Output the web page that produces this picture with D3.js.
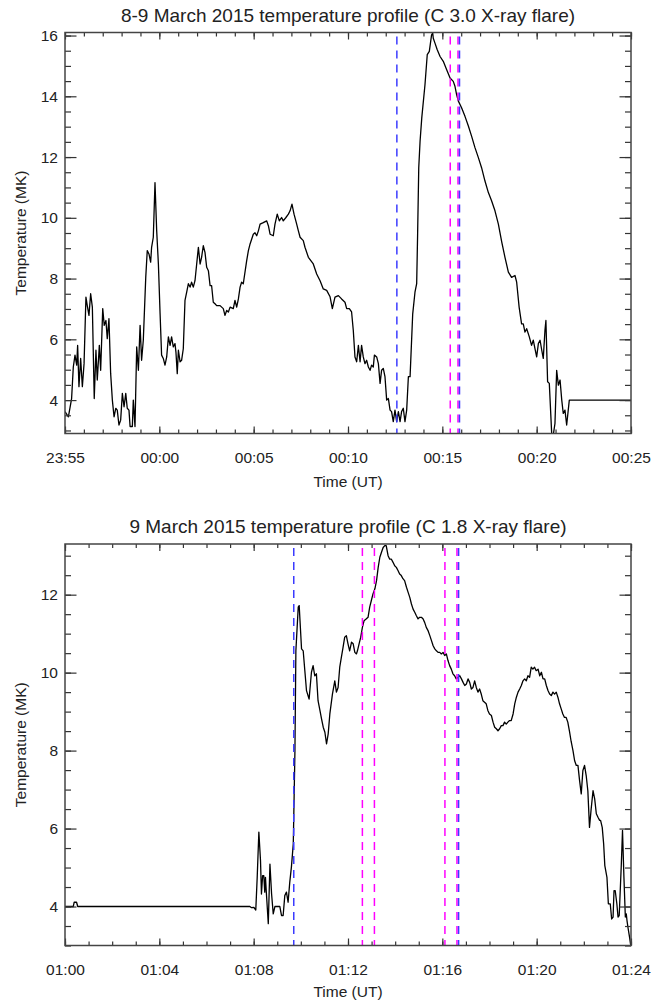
<!DOCTYPE html>
<html>
<head>
<meta charset="utf-8">
<script src="https://cdn.jsdelivr.net/npm/d3@7"></script>
<style>
  body { margin: 0; background: #fff; }
  text { font-family: 'Liberation Sans', Arial, Helvetica, sans-serif; fill: #222; }
</style>
</head>
<body>
<div id="chart"></div>
<script>
// ---- data: time in minutes after the first tick, temperature in MK ----
var topTitle = '8-9 March 2015 temperature profile (C 3.0 X-ray flare)'
var topTickLabels = ['23:55', '00:00', '00:05', '00:10', '00:15', '00:20', '00:25']
var topTickMinutes = [0, 5, 10, 15, 20, 25, 30]
var topYTicks = [4, 6, 8, 10, 12, 14, 16]
var topBlueLines = [17.59, 20.91]
var topMagentaLines = [20.42, 20.83]
var topSeries = [
  [0,3.62],[0.18,3.45],[0.35,4.05],[0.44,5.09],[0.53,5.48],[0.62,5.15],[0.67,5.8],[0.74,4.44],[0.83,5.37],[0.92,4.44],
  [1.01,5.2],[1.11,7.39],[1.18,7.11],[1.27,6.79],[1.36,7.5],[1.45,7.06],[1.55,4.05],[1.64,5.64],[1.71,4.66],[1.82,5.8],
  [1.89,4.98],[2.0,7.01],[2.08,6.46],[2.17,6.62],[2.24,6.02],[2.33,6.68],[2.42,4.87],[2.51,4.0],[2.6,3.45],[2.69,3.73],
  [2.77,3.67],[2.86,3.18],[2.95,3.34],[3.04,4.22],[3.13,3.78],[3.22,4.22],[3.3,3.73],[3.39,3.67],[3.45,3.13],[3.57,3.13],
  [3.62,4.0],[3.71,3.13],[3.8,5.75],[3.89,4.98],[3.98,6.46],[4.06,5.31],[4.15,5.97],[4.28,8.04],[4.36,8.92],[4.45,8.81],
  [4.54,8.54],[4.59,9.03],[4.68,9.36],[4.77,11.16],[4.86,9.57],[4.95,8.48],[5.04,6.84],[5.12,5.48],[5.21,5.37],[5.3,5.15],
  [5.39,5.42],[5.48,6.08],[5.57,5.8],[5.65,6.08],[5.74,5.75],[5.83,5.86],[5.88,5.58],[5.95,4.87],[6.01,5.64],[6.1,5.26],
  [6.18,5.31],[6.27,5.69],[6.36,7.28],[6.45,7.55],[6.54,7.83],[6.63,7.72],[6.71,7.88],[6.8,7.72],[6.89,7.93],[6.98,8.48],
  [7.07,9.03],[7.16,8.48],[7.24,8.7],[7.33,9.08],[7.42,8.86],[7.51,8.37],[7.6,8.26],[7.69,7.77],[7.77,7.77],[7.86,7.22],
  [7.95,7.17],[8.04,7.11],[8.22,7.11],[8.39,7.01],[8.48,6.79],[8.57,6.95],[8.66,6.9],[8.75,7.06],[8.92,7.01],[9.01,7.28],
  [9.1,7.06],[9.19,7.33],[9.28,7.72],[9.36,7.88],[9.45,7.83],[9.63,8.59],[9.72,8.92],[9.81,9.14],[9.98,9.46],[10.07,9.51],
  [10.16,9.41],[10.25,9.57],[10.34,9.79],[10.51,9.84],[10.69,9.9],[10.78,9.74],[10.87,9.46],[11.04,9.41],[11.13,9.79],[11.25,10.12],
  [11.36,9.9],[11.48,10.01],[11.57,9.9],[11.71,10.01],[11.84,10.12],[11.93,10.23],[12.03,10.45],[12.14,10.12],[12.28,9.79],[12.37,9.57],
  [12.46,9.36],[12.63,9.25],[12.72,9.03],[12.9,8.7],[13.16,8.48],[13.34,8.15],[13.52,7.93],[13.69,7.66],[13.87,7.61],[14.05,7.4],
  [14.17,7.01],[14.31,7.39],[14.49,7.44],[14.66,7.33],[14.84,7.22],[14.93,7.01],[15.07,7.01],[15.19,6.9],[15.28,6.3],[15.37,5.42],
  [15.46,5.26],[15.55,5.8],[15.64,5.26],[15.72,5.8],[15.81,5.42],[15.9,5.2],[15.99,5.31],[16.08,5.09],[16.17,4.98],[16.25,5.15],
  [16.34,5.09],[16.4,5.48],[16.52,5.42],[16.61,5.2],[16.7,4.55],[16.78,4.98],[16.87,5.04],[16.96,4.77],[17.05,4.0],[17.14,4.05],
  [17.23,3.67],[17.31,3.62],[17.4,3.29],[17.49,3.67],[17.58,3.29],[17.67,3.62],[17.76,3.29],[17.84,3.62],[17.93,3.73],[18.02,3.29],
  [18.11,3.67],[18.2,4.77],[18.29,4.77],[18.43,6.84],[18.55,7.55],[18.64,7.83],[18.69,9.46],[18.75,11.65],[18.82,12.52],[18.91,13.29],
  [19.08,14.38],[19.2,15.37],[19.31,15.48],[19.43,16.02],[19.49,16.08],[19.52,15.91],[19.61,15.75],[19.73,15.53],[19.88,15.31],[20.05,15.15],
  [20.23,14.87],[20.41,14.6],[20.58,14.49],[20.67,14.33],[20.76,14.05],[20.85,13.84],[21.02,13.62],[21.2,13.34],[21.38,13.02],[21.55,12.69],
  [21.73,12.31],[21.91,11.98],[22.08,11.65],[22.26,11.21],[22.44,10.83],[22.61,10.56],[22.79,10.23],[22.97,9.79],[23.15,9.2],[23.32,8.7],
  [23.5,8.21],[23.67,8.04],[23.85,8.1],[23.94,7.88],[24.07,7.06],[24.2,6.51],[24.29,6.51],[24.38,6.24],[24.47,6.35],[24.61,6.08],
  [24.73,5.8],[24.82,5.97],[24.91,5.69],[25.0,5.42],[25.09,5.86],[25.18,5.97],[25.27,5.64],[25.35,5.37],[25.44,6.3],[25.49,6.62],
  [25.58,4.6],[25.67,4.55],[25.8,2.85],[25.88,2.85],[25.97,3.23],[26.06,4.98],[26.15,4.49],[26.24,4.66],[26.33,4.0],[26.41,3.56],
  [26.5,3.67],[26.59,3.18],[26.73,4.0],[30,4.0]
]

var bottomTitle = '9 March 2015 temperature profile (C 1.8 X-ray flare)'
var bottomTickLabels = ['01:00', '01:04', '01:08', '01:12', '01:16', '01:20', '01:24']
var bottomTickMinutes = [0, 4, 8, 12, 16, 20, 24]
var bottomYTicks = [4, 6, 8, 10, 12]
var bottomBlueLines = [9.7, 16.69]
var bottomMagentaLines = [12.61, 13.12, 16.11, 16.62]
var bottomSeries = [
  [0,4.0],[0.35,4.0],[0.39,4.11],[0.49,4.11],[0.54,4.0],[7.84,4.0],[7.91,3.97],[8.01,3.98],[8.09,3.91],[8.15,4.75],
  [8.22,5.91],[8.29,5.18],[8.33,4.32],[8.38,4.79],[8.43,4.79],[8.47,4.37],[8.5,4.75],[8.55,4.24],[8.62,3.56],[8.69,5.09],
  [8.76,4.32],[8.83,3.81],[8.9,4.0],[9.11,4.0],[9.18,3.77],[9.25,3.77],[9.32,4.28],[9.39,4.37],[9.46,4.11],[9.53,4.62],
  [9.6,5.01],[9.68,5.61],[9.75,8.0],[9.79,10.56],[9.89,11.68],[9.93,11.72],[10.03,10.61],[10.1,10.56],[10.17,10.05],[10.24,9.54],
  [10.35,9.32],[10.45,10.01],[10.52,10.18],[10.59,9.92],[10.66,9.97],[10.73,9.28],[10.81,9.03],[10.88,8.81],[10.95,8.6],[11.02,8.47],
  [11.09,8.17],[11.16,8.43],[11.23,8.94],[11.34,9.45],[11.44,9.79],[11.51,9.5],[11.58,9.62],[11.65,10.14],[11.72,10.4],[11.79,10.65],
  [11.86,10.91],[11.93,10.95],[12.0,10.74],[12.07,10.56],[12.15,10.78],[12.22,10.74],[12.29,10.52],[12.36,10.48],[12.4,10.56],[12.47,10.74],
  [12.54,10.91],[12.61,11.16],[12.68,11.33],[12.78,11.38],[12.85,11.42],[12.92,11.68],[12.99,11.85],[13.06,12.02],[13.14,12.15],[13.21,12.36],
  [13.28,12.7],[13.35,12.96],[13.42,13.09],[13.49,13.21],[13.56,13.26],[13.62,13.26],[13.7,13.0],[13.77,12.91],[13.84,12.91],[13.91,12.83],
  [13.98,12.74],[14.05,12.7],[14.12,12.62],[14.19,12.53],[14.26,12.49],[14.33,12.41],[14.4,12.36],[14.48,12.19],[14.55,12.06],[14.62,11.93],
  [14.69,11.76],[14.76,11.63],[14.83,11.55],[14.9,11.46],[14.97,11.38],[15.04,11.42],[15.11,11.42],[15.18,11.38],[15.25,11.29],[15.32,11.16],
  [15.4,11.07],[15.47,10.95],[15.54,10.82],[15.61,10.69],[15.68,10.61],[15.75,10.56],[15.82,10.52],[15.89,10.52],[15.96,10.48],[16.03,10.52],
  [16.1,10.44],[16.17,10.48],[16.24,10.31],[16.31,10.18],[16.38,10.09],[16.45,9.97],[16.52,9.92],[16.59,9.84],[16.67,9.88],[16.74,9.92],
  [16.81,9.84],[16.88,9.75],[16.95,9.67],[17.02,9.71],[17.09,9.84],[17.16,9.75],[17.23,9.58],[17.3,9.62],[17.37,9.79],[17.44,9.62],
  [17.51,9.5],[17.58,9.58],[17.65,9.45],[17.72,9.28],[17.79,9.24],[17.86,9.2],[17.93,9.03],[18.0,8.94],[18.08,8.9],[18.15,8.73],
  [18.22,8.6],[18.29,8.56],[18.36,8.51],[18.43,8.56],[18.5,8.64],[18.57,8.64],[18.64,8.73],[18.71,8.68],[18.78,8.73],[18.85,8.77],
  [18.92,8.77],[19.0,8.94],[19.07,9.2],[19.14,9.37],[19.21,9.5],[19.28,9.58],[19.35,9.67],[19.42,9.79],[19.49,9.84],[19.56,9.79],
  [19.63,9.92],[19.7,9.88],[19.77,10.14],[19.84,10.09],[19.91,10.14],[19.98,10.05],[20.06,10.09],[20.13,9.92],[20.2,10.01],[20.27,9.84],
  [20.34,9.84],[20.41,9.67],[20.48,9.54],[20.55,9.45],[20.62,9.41],[20.69,9.5],[20.76,9.45],[20.83,9.5],[20.9,9.37],[20.97,9.2],
  [21.04,9.07],[21.11,8.94],[21.18,8.85],[21.25,8.85],[21.32,8.73],[21.39,8.5],[21.46,8.24],[21.54,8.0],[21.61,7.74],[21.68,7.62],
  [21.75,7.62],[21.82,7.23],[21.89,6.89],[21.96,7.49],[22.03,7.62],[22.1,7.36],[22.17,6.97],[22.24,6.03],[22.31,6.5],[22.39,6.97],
  [22.46,6.76],[22.53,6.38],[22.6,6.29],[22.67,6.21],[22.71,6.21],[22.78,6.03],[22.84,5.61],[22.89,5.05],[22.98,4.75],[23.04,4.07],
  [23.12,4.07],[23.18,3.68],[23.24,3.73],[23.28,4.41],[23.33,4.41],[23.4,4.07],[23.45,3.73],[23.5,3.77],[23.59,5.09],[23.64,5.95],
  [23.7,4.75],[23.76,3.73],[23.8,3.81],[23.83,3.64],[23.88,3.43],[23.94,3.21],[24.0,2.95]
]

var width = 651
var height = 1003
var left = 65
var right = 631
var tickFont = '15.5px'

var svg = d3
  .select('#chart')
  .append('svg')
  .attr('width', width)
  .attr('height', height)

function styleAxis(g, showText) {
  g.select('.domain').remove()
  g.selectAll('.tick line').attr('stroke', '#333').attr('stroke-width', 1.2)
  g.attr('font-family', null).attr('font-size', null)
  if (showText) {
    g.selectAll('.tick text').attr('font-size', tickFont).attr('fill', '#222')
  } else {
    g.selectAll('.tick text').remove()
  }
}

function drawPanel(p) {
  var x = d3.scaleLinear().domain(p.xDomain).range([left, right])
  var y = d3.scaleLinear().domain(p.yDomain).range([p.bottom, p.top])

  var g = svg.append('g')

  g.append('clipPath')
    .attr('id', 'clip-' + p.id)
    .append('rect')
    .attr('x', left)
    .attr('y', p.top)
    .attr('width', right - left)
    .attr('height', p.bottom - p.top)

  var plot = g.append('g').attr('clip-path', 'url(#clip-' + p.id + ')')

  var line = d3
    .line()
    .x(d => x(d[0]))
    .y(d => y(d[1]))

  plot
    .append('path')
    .datum(p.series)
    .attr('d', line)
    .attr('fill', 'none')
    .attr('stroke', '#000')
    .attr('stroke-width', 1.3)
    .attr('stroke-linejoin', 'round')

  // flare markers
  plot
    .selectAll('.mag')
    .data(p.magenta)
    .enter()
    .append('line')
    .attr('class', 'mag')
    .attr('x1', d => x(d))
    .attr('x2', d => x(d))
    .attr('y1', p.top + 4)
    .attr('y2', p.bottom)
    .attr('stroke', '#ff00ff')
    .attr('stroke-width', 1.5)
    .attr('stroke-dasharray', '8,6')

  plot
    .selectAll('.blue')
    .data(p.blue)
    .enter()
    .append('line')
    .attr('class', 'blue')
    .attr('x1', d => x(d))
    .attr('x2', d => x(d))
    .attr('y1', p.top + 4)
    .attr('y2', p.bottom)
    .attr('stroke', '#3b3bff')
    .attr('stroke-width', 1.5)
    .attr('stroke-dasharray', '8,6')

  var xMinor = d3.range(p.xDomain[0], p.xDomain[1] + 0.001, 1)
  var yMinor = d3.range(Math.ceil(p.yDomain[0] * 2) / 2, p.yDomain[1], 0.5)

  // bottom axis
  g.append('g')
    .attr('transform', 'translate(0,' + p.bottom + ')')
    .call(d3.axisBottom(x).tickValues(xMinor).tickSize(-4).tickSizeOuter(0).tickFormat(''))
    .call(g => styleAxis(g, false))
  g.append('g')
    .attr('transform', 'translate(0,' + p.bottom + ')')
    .call(
      d3
        .axisBottom(x)
        .tickValues(p.xTicks)
        .tickSize(-7)
        .tickSizeOuter(0)
        .tickPadding(18)
        .tickFormat((d, i) => p.xLabels[i])
    )
    .call(g => styleAxis(g, true))

  // top axis
  g.append('g')
    .attr('transform', 'translate(0,' + p.top + ')')
    .call(d3.axisTop(x).tickValues(xMinor).tickSize(-4).tickSizeOuter(0))
    .call(g => styleAxis(g, false))
  g.append('g')
    .attr('transform', 'translate(0,' + p.top + ')')
    .call(d3.axisTop(x).tickValues(p.xTicks).tickSize(-7).tickSizeOuter(0))
    .call(g => styleAxis(g, false))

  // left axis
  g.append('g')
    .attr('transform', 'translate(' + left + ',0)')
    .call(d3.axisLeft(y).tickValues(yMinor).tickSize(-6).tickSizeOuter(0))
    .call(g => styleAxis(g, false))
  g.append('g')
    .attr('transform', 'translate(' + left + ',0)')
    .call(d3.axisLeft(y).tickValues(p.yTicks).tickSize(-11.5).tickSizeOuter(0).tickPadding(7).tickFormat(d3.format('d')))
    .call(g => styleAxis(g, true))

  // right axis
  g.append('g')
    .attr('transform', 'translate(' + right + ',0)')
    .call(d3.axisRight(y).tickValues(yMinor).tickSize(-6).tickSizeOuter(0))
    .call(g => styleAxis(g, false))
  g.append('g')
    .attr('transform', 'translate(' + right + ',0)')
    .call(d3.axisRight(y).tickValues(p.yTicks).tickSize(-11.5).tickSizeOuter(0))
    .call(g => styleAxis(g, false))

  // frame
  g.append('rect')
    .attr('x', left)
    .attr('y', p.top)
    .attr('width', right - left)
    .attr('height', p.bottom - p.top)
    .attr('fill', 'none')
    .attr('stroke', '#444')
    .attr('stroke-width', 1.5)

  g.append('text')
    .text(p.title)
    .attr('x', (left + right) / 2)
    .attr('y', p.top - 11)
    .attr('text-anchor', 'middle')
    .attr('font-size', '19px')

  g.append('text')
    .text('Time (UT)')
    .attr('x', (left + right) / 2)
    .attr('y', p.bottom + p.xTitleGap)
    .attr('text-anchor', 'middle')
    .attr('font-size', '15.5px')

  g.append('text')
    .text('Temperature (MK)')
    .attr('transform', 'translate(26,' + (p.top + p.bottom) / 2 + ') rotate(-90)')
    .attr('text-anchor', 'middle')
    .attr('font-size', '15.5px')
}

drawPanel({
  id: 'top',
  top: 32.5,
  bottom: 433.5,
  xDomain: [0, 30],
  yDomain: [2.9, 16.1],
  xTicks: topTickMinutes,
  xLabels: topTickLabels,
  yTicks: topYTicks,
  series: topSeries,
  blue: topBlueLines,
  magenta: topMagentaLines,
  title: topTitle,
  xTitleGap: 53
})

drawPanel({
  id: 'bottom',
  top: 544,
  bottom: 945.5,
  xDomain: [0, 24],
  yDomain: [3, 13.3],
  xTicks: bottomTickMinutes,
  xLabels: bottomTickLabels,
  yTicks: bottomYTicks,
  series: bottomSeries,
  blue: bottomBlueLines,
  magenta: bottomMagentaLines,
  title: bottomTitle,
  xTitleGap: 51
})
</script>
</body>
</html>
